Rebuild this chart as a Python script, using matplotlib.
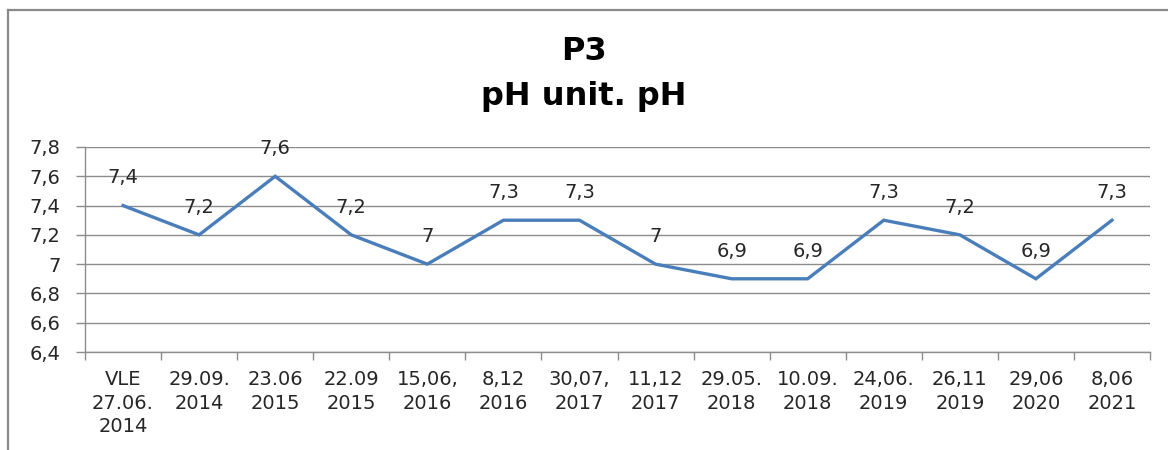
import matplotlib
matplotlib.use("Agg")
import matplotlib.pyplot as plt
from matplotlib.lines import Line2D

categories = ["VLE\n27.06.\n2014", "29.09.\n2014", "23.06\n2015", "22.09\n2015",
              "15,06,\n2016", "8,12\n2016", "30,07,\n2017", "11,12\n2017",
              "29.05.\n2018", "10.09.\n2018", "24,06.\n2019", "26,11\n2019",
              "29,06\n2020", "8,06\n2021"]
values = [7.4, 7.2, 7.6, 7.2, 7.0, 7.3, 7.3, 7.0, 6.9, 6.9, 7.3, 7.2, 6.9, 7.3]
yticks = [6.4, 6.6, 6.8, 7.0, 7.2, 7.4, 7.6, 7.8]

def fmt(v):
    s = f"{v:.1f}"
    if s.endswith(".0"):
        s = s[:-2]
    return s.replace(".", ",")

W, H = 1168, 450
fig = plt.figure(figsize=(W / 100, H / 100), dpi=100)
ax = fig.add_axes([85 / W, 1 - 352 / H, (1150 - 85) / W, (352 - 147) / H])

text_color = "#262626"
grid_color = "#8c8c8c"

x = list(range(len(values)))
ax.plot(x, values, color="#4A7EBB", linewidth=2.4, solid_joinstyle="miter", zorder=3)
for xi, v in zip(x, values):
    ax.annotate(fmt(v), (xi, v), xytext=(0, 20), textcoords="offset points",
                ha="center", va="center", fontsize=14, color=text_color)

ax.set_xlim(-0.5, len(values) - 0.5)
ax.set_ylim(6.4, 7.8)
ax.set_yticks(yticks)
ax.set_yticklabels([fmt(v) for v in yticks])
ax.set_xticks(x)
ax.set_xticklabels(categories, fontsize=14, color=text_color, linespacing=1.3)
ax.set_xticks([i - 0.5 for i in range(len(values) + 1)], minor=True)
ax.tick_params(axis="x", which="major", length=0, pad=13)
ax.tick_params(axis="x", which="minor", length=6, color=grid_color, width=1)
ax.tick_params(axis="y", length=6.5, color=grid_color, width=1, labelsize=14,
               labelcolor=text_color, pad=11)

ax.grid(axis="y", color=grid_color, linewidth=1)
ax.set_axisbelow(True)
for s in ["top", "right"]:
    ax.spines[s].set_visible(False)
ax.spines["left"].set_color(grid_color)
ax.spines["bottom"].set_color(grid_color)
ax.spines["left"].set_linewidth(1)
ax.spines["bottom"].set_linewidth(1)

fig.text(0.5, 1 - 52 / H, "P3", ha="center", va="center", fontsize=23,
         fontweight="bold", color="black")
fig.text(0.5, 1 - 96 / H, "pH unit. pH", ha="center", va="center", fontsize=23,
         fontweight="bold", color="black")

# outer frame (left and top edges visible)
fig.add_artist(Line2D([8 / W, 8 / W], [0, 1 - 10 / H], transform=fig.transFigure,
                      color="#8a8a8a", linewidth=1.6))
fig.add_artist(Line2D([8 / W, 1], [1 - 10 / H, 1 - 10 / H], transform=fig.transFigure,
                      color="#8a8a8a", linewidth=1.6))

fig.savefig("out.png", dpi=100, facecolor="white")
